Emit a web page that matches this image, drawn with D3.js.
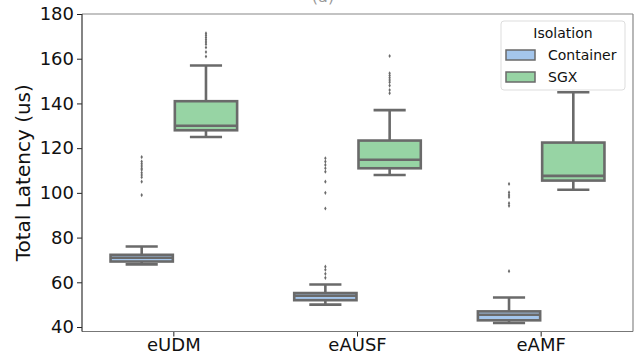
<!DOCTYPE html>
<html><head><meta charset="utf-8">
<script src="https://cdn.jsdelivr.net/npm/d3@7/dist/d3.min.js"></script>
<style>body{margin:0;background:#fff}svg{display:block;font-family:"DejaVu Sans",sans-serif}</style>
</head><body><svg id="c" width="637" height="358"></svg>
<script>
const categories = ["eUDM", "eAUSF", "eAMF"];
const hues = ["Container", "SGX"];
const yTicks = [40, 60, 80, 100, 120, 140, 160, 180];
// [whiskerLow, Q1, median, Q3, whiskerHigh]
const containerStats = [[68, 69.3, 71, 72.3, 76], [50, 52, 54, 55.2, 59], [41.8, 43, 45.5, 47, 53.2]];
const sgxStats = [[125, 128, 130, 141, 157], [108, 111, 114.8, 123.4, 137], [101.4, 105.5, 107.6, 122.5, 145]];
const containerOutliers = [
  [116, 114, 113, 112, 111, 110.3, 109, 108, 107, 105, 99],
  [115.5, 114, 112.5, 111, 109.5, 105, 100, 93, 67, 65.6, 63.8, 62],
  [104, 100.2, 99.1, 98.1, 95.4, 94.2, 65]
];
const sgxOutliers = [
  [171.4, 170.5, 169.5, 168.5, 167.5, 166.5, 165, 163, 161],
  [161.2, 153.5, 152.5, 151.5, 150.5, 149.5, 148, 146, 144.6],
  []
];
const fills = ["#a4c6ec", "#97d4a4"];
const lineColor = "#6a6a6a";

const svg = d3.select("#c");
const m = {l: 82, r: 4, t: 14, b: 26.5};
const W = 637, H = 358;
const x = d3.scaleBand().domain(categories).range([m.l, W - m.r]).padding(0);
const y = d3.scaleLinear().domain([38, 180]).range([H - m.b, m.t]);
const bw = x.bandwidth() * 0.35;

svg.append("text").attr("x", 323).attr("y", 1.5).attr("text-anchor", "middle")
  .attr("font-size", 16).attr("fill", "#999").text("(a)");

// axes
const ya = svg.append("g").attr("transform", `translate(${m.l},0)`)
  .call(d3.axisLeft(y).tickValues(yTicks).tickSize(5).tickPadding(3));
ya.selectAll("text").attr("font-size", 18).attr("fill", "#111").attr("font-family", "DejaVu Sans");
ya.select(".domain").remove();
ya.selectAll("line").attr("stroke", "#222");
const xa = svg.append("g").attr("transform", `translate(0,${H - m.b})`)
  .call(d3.axisBottom(x).tickSize(5).tickPadding(2));
xa.selectAll("text").attr("font-size", 18).attr("fill", "#111").attr("font-family", "DejaVu Sans");
xa.select(".domain").remove();
xa.selectAll("line").attr("stroke", "#222");

svg.append("text").attr("transform", `translate(30,${(m.t + H - m.b) / 2}) rotate(-90)`)
  .attr("text-anchor", "middle").attr("font-size", 20).attr("fill", "#111").text("Total Latency (us)");

// boxes
const groups = [containerStats, sgxStats];
const outs = [containerOutliers, sgxOutliers];
groups.forEach((stats, h) => {
  stats.forEach((s, i) => {
    const cx = x(categories[i]) + x.bandwidth() / 2 + (h === 0 ? -bw / 2 : bw / 2);
    const g = svg.append("g");
    const lw = 2.6;
    g.append("line").attr("x1", cx).attr("x2", cx).attr("y1", y(s[0])).attr("y2", y(s[1]))
      .attr("stroke", lineColor).attr("stroke-width", lw);
    g.append("line").attr("x1", cx).attr("x2", cx).attr("y1", y(s[3])).attr("y2", y(s[4]))
      .attr("stroke", lineColor).attr("stroke-width", lw);
    [s[0], s[4]].forEach(v => g.append("line").attr("x1", cx - bw / 4).attr("x2", cx + bw / 4)
      .attr("y1", y(v)).attr("y2", y(v)).attr("stroke", lineColor).attr("stroke-width", lw));
    g.append("rect").attr("x", cx - bw / 2 + 1).attr("width", bw - 2).attr("y", y(s[3]))
      .attr("height", y(s[1]) - y(s[3])).attr("fill", fills[h]).attr("stroke", lineColor).attr("stroke-width", lw);
    g.append("line").attr("x1", cx - bw / 2 + 1).attr("x2", cx + bw / 2 - 1).attr("y1", y(s[2])).attr("y2", y(s[2]))
      .attr("stroke", lineColor).attr("stroke-width", lw);
    outs[h][i].forEach(v => g.append("path")
      .attr("d", d3.symbol(d3.symbolDiamond, 5)())
      .attr("transform", `translate(${cx},${y(v)})`).attr("fill", lineColor));
  });
});

// frame
svg.append("line").attr("x1", m.l).attr("x2", W - m.r).attr("y1", m.t).attr("y2", m.t).attr("stroke", "#888").attr("stroke-width", 1.2);
svg.append("line").attr("x1", W - m.r).attr("x2", W - m.r).attr("y1", m.t).attr("y2", H - m.b).attr("stroke", "#888").attr("stroke-width", 1.2);
svg.append("line").attr("x1", m.l).attr("x2", W - m.r).attr("y1", H - m.b).attr("y2", H - m.b).attr("stroke", "#777").attr("stroke-width", 1.2);
svg.append("line").attr("x1", m.l).attr("x2", m.l).attr("y1", m.t).attr("y2", H - m.b).attr("stroke", "#333").attr("stroke-width", 1.2);

// legend
const lg = svg.append("g").attr("transform", "translate(501,21)");
lg.append("rect").attr("width", 124).attr("height", 69).attr("rx", 3).attr("fill", "#fff")
  .attr("fill-opacity", 0.85).attr("stroke", "#ddd");
lg.append("text").attr("x", 62).attr("y", 17).attr("text-anchor", "middle").attr("font-size", 14).attr("fill", "#111").text("Isolation");
hues.forEach((hname, k) => {
  lg.append("rect").attr("x", 5).attr("y", 29 + k * 22).attr("width", 29).attr("height", 10)
    .attr("fill", fills[k]).attr("stroke", lineColor).attr("stroke-width", 1.5);
  lg.append("text").attr("x", 47).attr("y", 39 + k * 22).attr("font-size", 14).attr("fill", "#111").text(hname);
});
</script></body></html>
